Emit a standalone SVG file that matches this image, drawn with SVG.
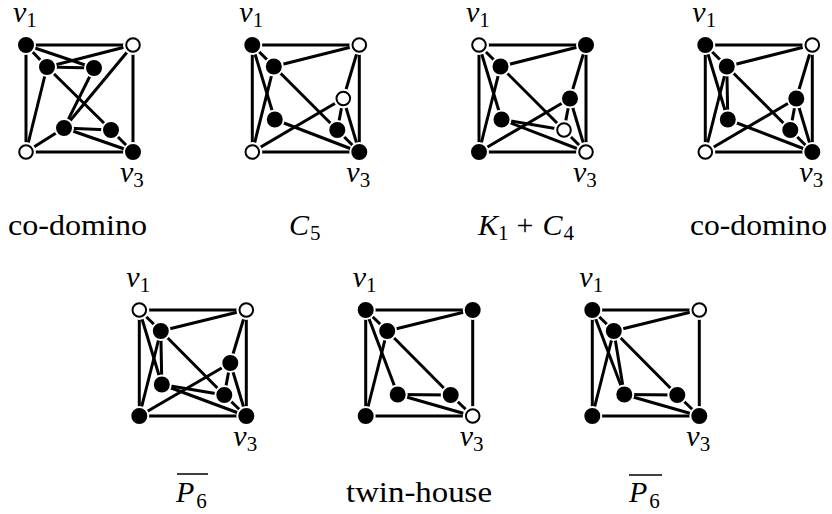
<svg xmlns="http://www.w3.org/2000/svg" width="832" height="514" viewBox="0 0 832 514">
<style>
.e line{stroke:#000;stroke-width:3;fill:none}
.lbl{font-family:"Liberation Serif","Times New Roman",serif;font-size:30px;fill:#000}
.it{font-style:italic}
.sub{font-size:21px;font-style:normal}
.ov{stroke:#000;stroke-width:1.5}
</style>
<defs>
<g id="nf"><circle r="9" fill="#000" stroke="#fff" stroke-width="2"/></g>
<g id="no"><circle r="10" fill="#fff"/><circle r="6.8" fill="#fff" stroke="#000" stroke-width="2"/></g>
</defs>
<rect width="832" height="514" fill="#fff"/>

<!-- Graph 1: co-domino -->
<g id="graph1" transform="translate(26,45)">
<g id="graph1-edges" class="e">
<line x1="0" y1="0" x2="107" y2="0"/><line x1="0" y1="0" x2="0" y2="107"/>
<line x1="0" y1="107" x2="107" y2="107"/><line x1="107" y1="0" x2="107" y2="107"/>
<line x1="0" y1="0" x2="21" y2="22"/><line x1="0" y1="0" x2="68" y2="23"/>
<line x1="21" y1="22" x2="68" y2="23"/><line x1="21" y1="22" x2="107" y2="0"/>
<line x1="21" y1="22" x2="0" y2="107"/><line x1="21" y1="22" x2="85" y2="85"/>
<line x1="68" y1="23" x2="38" y2="83"/><line x1="107" y1="0" x2="38" y2="83"/>
<line x1="38" y1="83" x2="0" y2="107"/><line x1="38" y1="83" x2="85" y2="85"/>
<line x1="38" y1="83" x2="107" y2="107"/><line x1="85" y1="85" x2="107" y2="107"/>
</g>
<g id="g1-v1"><use href="#nf"/><text class="lbl it" x="-13" y="-23">v<tspan class="sub" dy="4.5">1</tspan></text></g>
<g id="g1-tr"><use href="#no" x="107" y="0"/></g>
<g id="g1-bl"><use href="#no" x="0" y="107"/></g>
<g id="g1-v3"><use href="#nf" x="107" y="107"/><text class="lbl it" x="94" y="137">v<tspan class="sub" dy="4.5">3</tspan></text></g>
<g id="g1-a"><use href="#nf" x="21" y="22"/></g>
<g id="g1-b"><use href="#nf" x="68" y="23"/></g>
<g id="g1-c"><use href="#nf" x="38" y="83"/></g>
<g id="g1-d"><use href="#nf" x="85" y="85"/></g>
</g>

<!-- Graph 2: C5 -->
<g id="graph2" transform="translate(252.3,45)">
<g id="graph2-edges" class="e">
<line x1="0" y1="0" x2="107" y2="0"/><line x1="0" y1="0" x2="0" y2="107"/>
<line x1="0" y1="107" x2="107" y2="107"/><line x1="107" y1="0" x2="107" y2="107"/>
<line x1="0" y1="0" x2="21.5" y2="21.5"/><line x1="21.5" y1="21.5" x2="107" y2="0"/>
<line x1="21.5" y1="21.5" x2="0" y2="107"/><line x1="21.5" y1="21.5" x2="85" y2="85"/>
<line x1="0" y1="0" x2="22.5" y2="74.5"/><line x1="22.5" y1="74.5" x2="107" y2="107"/>
<line x1="0" y1="107" x2="91" y2="53.5"/><line x1="107" y1="0" x2="91" y2="53.5"/>
<line x1="91" y1="53.5" x2="85" y2="85"/><line x1="91" y1="53.5" x2="107" y2="107"/>
<line x1="85" y1="85" x2="107" y2="107"/>
</g>
<g id="g2-v1"><use href="#nf"/><text class="lbl it" x="-13" y="-23">v<tspan class="sub" dy="4.5">1</tspan></text></g>
<g id="g2-tr"><use href="#no" x="107" y="0"/></g>
<g id="g2-bl"><use href="#no" x="0" y="107"/></g>
<g id="g2-v3"><use href="#nf" x="107" y="107"/><text class="lbl it" x="94" y="137">v<tspan class="sub" dy="4.5">3</tspan></text></g>
<g id="g2-a"><use href="#nf" x="21.5" y="21.5"/></g>
<g id="g2-b"><use href="#no" x="91" y="53.5"/></g>
<g id="g2-c"><use href="#nf" x="22.5" y="74.5"/></g>
<g id="g2-d"><use href="#nf" x="85" y="85"/></g>
</g>

<!-- Graph 3: K1 + C4 -->
<g id="graph3" transform="translate(479,45)">
<g id="graph3-edges" class="e">
<line x1="0" y1="0" x2="107" y2="0"/><line x1="0" y1="0" x2="0" y2="107"/>
<line x1="0" y1="107" x2="107" y2="107"/><line x1="107" y1="0" x2="107" y2="107"/>
<line x1="0" y1="0" x2="21.5" y2="21.5"/><line x1="21.5" y1="21.5" x2="107" y2="0"/>
<line x1="21.5" y1="21.5" x2="0" y2="107"/><line x1="21.5" y1="21.5" x2="85" y2="85"/>
<line x1="0" y1="0" x2="22.5" y2="74.5"/><line x1="22.5" y1="74.5" x2="107" y2="107"/>
<line x1="22.5" y1="74.5" x2="85" y2="85"/>
<line x1="0" y1="107" x2="91" y2="53.5"/><line x1="107" y1="0" x2="91" y2="53.5"/>
<line x1="91" y1="53.5" x2="85" y2="85"/><line x1="91" y1="53.5" x2="107" y2="107"/>
<line x1="85" y1="85" x2="107" y2="107"/>
</g>
<g id="g3-v1"><use href="#no"/><text class="lbl it" x="-13" y="-23">v<tspan class="sub" dy="4.5">1</tspan></text></g>
<g id="g3-tr"><use href="#nf" x="107" y="0"/></g>
<g id="g3-bl"><use href="#nf" x="0" y="107"/></g>
<g id="g3-v3"><use href="#no" x="107" y="107"/><text class="lbl it" x="94" y="137">v<tspan class="sub" dy="4.5">3</tspan></text></g>
<g id="g3-a"><use href="#nf" x="21.5" y="21.5"/></g>
<g id="g3-b"><use href="#nf" x="91" y="53.5"/></g>
<g id="g3-c"><use href="#nf" x="22.5" y="74.5"/></g>
<g id="g3-d"><use href="#no" x="85" y="85"/></g>
</g>

<!-- Graph 4: co-domino -->
<g id="graph4" transform="translate(705.3,45)">
<g id="graph4-edges" class="e">
<line x1="0" y1="0" x2="107" y2="0"/><line x1="0" y1="0" x2="0" y2="107"/>
<line x1="0" y1="107" x2="107" y2="107"/><line x1="107" y1="0" x2="107" y2="107"/>
<line x1="0" y1="0" x2="21.5" y2="21.5"/><line x1="21.5" y1="21.5" x2="107" y2="0"/>
<line x1="21.5" y1="21.5" x2="0" y2="107"/><line x1="21.5" y1="21.5" x2="85" y2="85"/>
<line x1="21.5" y1="21.5" x2="22.5" y2="74.5"/>
<line x1="0" y1="0" x2="22.5" y2="74.5"/><line x1="22.5" y1="74.5" x2="107" y2="107"/>
<line x1="0" y1="107" x2="91" y2="53.5"/><line x1="107" y1="0" x2="91" y2="53.5"/>
<line x1="91" y1="53.5" x2="85" y2="85"/><line x1="91" y1="53.5" x2="107" y2="107"/>
<line x1="85" y1="85" x2="107" y2="107"/>
</g>
<g id="g4-v1"><use href="#nf"/><text class="lbl it" x="-13" y="-23">v<tspan class="sub" dy="4.5">1</tspan></text></g>
<g id="g4-tr"><use href="#no" x="107" y="0"/></g>
<g id="g4-bl"><use href="#no" x="0" y="107"/></g>
<g id="g4-v3"><use href="#nf" x="107" y="107"/><text class="lbl it" x="94" y="137">v<tspan class="sub" dy="4.5">3</tspan></text></g>
<g id="g4-a"><use href="#nf" x="21.5" y="21.5"/></g>
<g id="g4-b"><use href="#nf" x="91" y="53.5"/></g>
<g id="g4-c"><use href="#nf" x="22.5" y="74.5"/></g>
<g id="g4-d"><use href="#nf" x="85" y="85"/></g>
</g>

<!-- Graph 5: P6 complement -->
<g id="graph5" transform="translate(139.3,310)">
<g id="graph5-edges" class="e">
<line x1="0" y1="0" x2="107" y2="0"/><line x1="0" y1="0" x2="0" y2="106"/>
<line x1="0" y1="106" x2="107" y2="106"/><line x1="107" y1="0" x2="107" y2="106"/>
<line x1="0" y1="0" x2="21.5" y2="21"/><line x1="21.5" y1="21" x2="107" y2="0"/>
<line x1="21.5" y1="21" x2="0" y2="106"/><line x1="21.5" y1="21" x2="85" y2="85"/>
<line x1="21.5" y1="21" x2="22.5" y2="74.5"/>
<line x1="0" y1="0" x2="22.5" y2="74.5"/><line x1="22.5" y1="74.5" x2="107" y2="106"/>
<line x1="22.5" y1="74.5" x2="85" y2="85"/>
<line x1="0" y1="106" x2="91" y2="53"/><line x1="107" y1="0" x2="91" y2="53"/>
<line x1="91" y1="53" x2="85" y2="85"/><line x1="91" y1="53" x2="107" y2="106"/>
<line x1="85" y1="85" x2="107" y2="106"/>
</g>
<g id="g5-v1"><use href="#no"/><text class="lbl it" x="-13" y="-23">v<tspan class="sub" dy="4.5">1</tspan></text></g>
<g id="g5-tr"><use href="#no" x="107" y="0"/></g>
<g id="g5-bl"><use href="#nf" x="0" y="106"/></g>
<g id="g5-v3"><use href="#nf" x="107" y="106"/><text class="lbl it" x="94" y="136">v<tspan class="sub" dy="4.5">3</tspan></text></g>
<g id="g5-a"><use href="#nf" x="21.5" y="21"/></g>
<g id="g5-b"><use href="#nf" x="91" y="53"/></g>
<g id="g5-c"><use href="#nf" x="22.5" y="74.5"/></g>
<g id="g5-d"><use href="#nf" x="85" y="85"/></g>
</g>

<!-- Graph 6: twin-house -->
<g id="graph6" transform="translate(365.7,310)">
<g id="graph6-edges" class="e">
<line x1="0" y1="0" x2="107" y2="0"/><line x1="0" y1="0" x2="0" y2="106"/>
<line x1="0" y1="106" x2="107" y2="106"/><line x1="107" y1="0" x2="107" y2="106"/>
<line x1="0" y1="0" x2="21.5" y2="21"/><line x1="21.5" y1="21" x2="107" y2="0"/>
<line x1="21.5" y1="21" x2="0" y2="106"/><line x1="0" y1="0" x2="32" y2="84.5"/>
<line x1="21.5" y1="21" x2="85" y2="85"/><line x1="32" y1="84.5" x2="85" y2="85"/>
<line x1="32" y1="84.5" x2="107" y2="106"/><line x1="85" y1="85" x2="107" y2="106"/>
</g>
<g id="g6-v1"><use href="#nf"/><text class="lbl it" x="-13" y="-23">v<tspan class="sub" dy="4.5">1</tspan></text></g>
<g id="g6-tr"><use href="#nf" x="107" y="0"/></g>
<g id="g6-bl"><use href="#nf" x="0" y="106"/></g>
<g id="g6-v3"><use href="#no" x="107" y="106"/><text class="lbl it" x="94" y="136">v<tspan class="sub" dy="4.5">3</tspan></text></g>
<g id="g6-a"><use href="#nf" x="21.5" y="21"/></g>
<g id="g6-c"><use href="#nf" x="32" y="84.5"/></g>
<g id="g6-d"><use href="#nf" x="85" y="85"/></g>
</g>

<!-- Graph 7: P6 complement -->
<g id="graph7" transform="translate(592.3,310)">
<g id="graph7-edges" class="e">
<line x1="0" y1="0" x2="107" y2="0"/><line x1="0" y1="0" x2="0" y2="106"/>
<line x1="0" y1="106" x2="107" y2="106"/><line x1="107" y1="0" x2="107" y2="106"/>
<line x1="0" y1="0" x2="21.5" y2="21"/><line x1="21.5" y1="21" x2="107" y2="0"/>
<line x1="21.5" y1="21" x2="0" y2="106"/><line x1="0" y1="0" x2="32" y2="84.5"/>
<line x1="21.5" y1="21" x2="32" y2="84.5"/>
<line x1="21.5" y1="21" x2="85" y2="85"/><line x1="32" y1="84.5" x2="85" y2="85"/>
<line x1="32" y1="84.5" x2="107" y2="106"/><line x1="85" y1="85" x2="107" y2="106"/>
</g>
<g id="g7-v1"><use href="#nf"/><text class="lbl it" x="-13" y="-23">v<tspan class="sub" dy="4.5">1</tspan></text></g>
<g id="g7-tr"><use href="#no" x="107" y="0"/></g>
<g id="g7-bl"><use href="#nf" x="0" y="106"/></g>
<g id="g7-v3"><use href="#nf" x="107" y="106"/><text class="lbl it" x="94" y="136">v<tspan class="sub" dy="4.5">3</tspan></text></g>
<g id="g7-a"><use href="#nf" x="21.5" y="21"/></g>
<g id="g7-c"><use href="#nf" x="32" y="84.5"/></g>
<g id="g7-d"><use href="#nf" x="85" y="85"/></g>
</g>

<!-- Captions -->
<g id="captions">
<text class="lbl" x="8" y="235" textLength="139" lengthAdjust="spacingAndGlyphs">co-domino</text>
<text class="lbl" x="289" y="235"><tspan class="it">C</tspan><tspan class="sub" dx="1" dy="5">5</tspan></text>
<text class="lbl" x="478" y="235"><tspan class="it">K</tspan><tspan class="sub" dy="5">1</tspan><tspan dx="8" dy="-5">+</tspan><tspan class="it" dx="9">C</tspan><tspan class="sub" dx="1" dy="5">4</tspan></text>
<text class="lbl" x="690" y="235" textLength="137" lengthAdjust="spacingAndGlyphs">co-domino</text>
<line class="ov" x1="177" y1="474" x2="208" y2="474"/>
<text class="lbl" x="176" y="502"><tspan class="it">P</tspan><tspan class="sub" dx="2" dy="6">6</tspan></text>
<text class="lbl" x="346" y="502" textLength="146" lengthAdjust="spacingAndGlyphs">twin-house</text>
<line class="ov" x1="629" y1="475" x2="662" y2="475"/>
<text class="lbl" x="629" y="502"><tspan class="it">P</tspan><tspan class="sub" dx="2" dy="6">6</tspan></text>
</g>
</svg>
